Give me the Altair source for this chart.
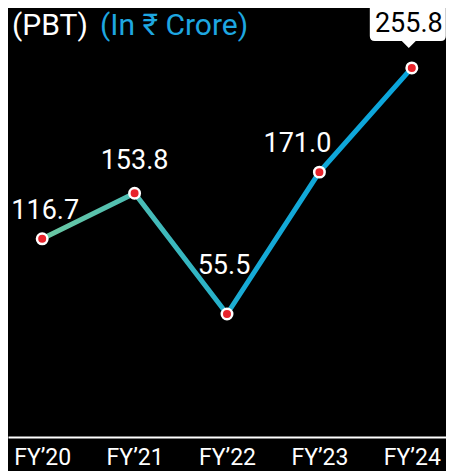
import altair as alt
import pandas as pd

years = ["FY’20", "FY’21", "FY’22", "FY’23", "FY’24"]
pbt = [116.7, 153.8, 55.5, 171.0, 255.8]
value_labels = ["116.7", "153.8", "55.5", "171.0", "255.8"]
title_main = ["(PBT)"]
title_unit = ["(In ₹ Crore)"]

df = pd.DataFrame({"year": years, "pbt": pbt, "label": value_labels})
last_year = years[-1]

FONT = "Roboto"

x = alt.X(
    "year:N",
    sort=years,
    scale=alt.Scale(type="point", padding=0.37),
    axis=alt.Axis(
        title=None, labelAngle=0, ticks=False, grid=False,
        domainColor="white", domainWidth=2,
        labelColor="white", labelFontSize=23, labelFont=FONT,
        labelPadding=9,
    ),
)
y = alt.Y("pbt:Q", scale=alt.Scale(domain=[-44.6, 304.6], nice=False, zero=False), axis=None)

base = alt.Chart(df).encode(x=x, y=y)

line = base.mark_line(
    strokeWidth=5,
    color=alt.Gradient(
        gradient="linear",
        stops=[
            alt.GradientStop(offset=0, color="#6cc8a2"),
            alt.GradientStop(offset=0.25, color="#4cbdb4"),
            alt.GradientStop(offset=0.45, color="#2cb3c6"),
            alt.GradientStop(offset=0.55, color="#16aad6"),
            alt.GradientStop(offset=1, color="#0aa5dc"),
        ],
        x1=0, x2=1, y1=0, y2=0,
    ),
)

callout_path = (
    "M -0.925 -1.625 L 0.725 -1.625 Q 0.85 -1.625 0.85 -1.5 L 0.85 -0.8 "
    "Q 0.85 -0.675 0.725 -0.675 L 0.1 -0.675 L -0.075 -0.5 L -0.25 -0.675 "
    "L -0.925 -0.675 Q -1.05 -0.675 -1.05 -0.8 L -1.05 -1.5 Q -1.05 -1.625 -0.925 -1.625 Z"
)

callout = base.transform_filter(alt.datum.year == last_year).mark_point(
    shape=callout_path, filled=True, fill="white", size=6400, opacity=1
)

points = base.mark_circle(
    color="#e8232b", stroke="white", strokeWidth=2.5, size=110, opacity=1
)

# label placement (style) per category
label_offsets = {
    years[0]: (3, -20),
    years[1]: (0, -24),
    years[2]: (-3, -40),
    years[3]: (-22, -20),
}
label_layers = []
for yr, (ddx, ddy) in label_offsets.items():
    label_layers.append(
        base.transform_filter(alt.datum.year == yr).mark_text(
            color="white", fontSize=27, font=FONT, baseline="alphabetic", dx=ddx, dy=ddy
        ).encode(text="label:N")
    )

last_label = base.transform_filter(alt.datum.year == last_year).mark_text(
    color="black", fontSize=27, font=FONT, baseline="alphabetic", dy=-36, dx=-3
).encode(text="label:N")

t1 = alt.Chart(pd.DataFrame({"t": title_main})).mark_text(
    color="white", fontSize=30, font=FONT, align="left", baseline="top"
).encode(x=alt.value(4), y=alt.value(3), text="t:N")

t2 = alt.Chart(pd.DataFrame({"t": title_unit})).mark_text(
    color="#1ea7e1", fontSize=30, font=FONT, align="left", baseline="top"
).encode(x=alt.value(92), y=alt.value(3), text="t:N")

chart = alt.layer(line, callout, points, *label_layers, last_label, t1, t2).properties(
    width=438, height=429,
    autosize=alt.AutoSizeParams(type="none"),
    padding={"left": 0, "top": 0, "right": 0, "bottom": 34},
    background="black",
).configure_view(stroke=None)

chart.save("out.html", embed_options={"renderer": "svg", "actions": False})
